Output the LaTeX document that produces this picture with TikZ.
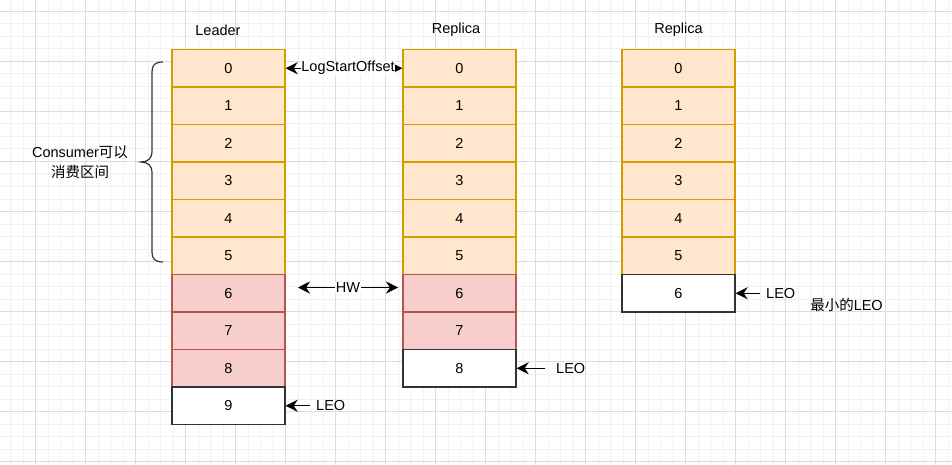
\documentclass[tikz,border=0pt]{standalone}
\usepackage{fontspec}
\setmainfont{Liberation Sans}
\newfontfamily\cjk{Noto Sans CJK SC}
\usetikzlibrary{arrows.meta}
\definecolor{orfill}{HTML}{FFE6CC}
\definecolor{ordraw}{HTML}{D79B00}
\definecolor{rdfill}{HTML}{F8CECC}
\definecolor{rddraw}{HTML}{B85450}
\definecolor{wtdraw}{HTML}{333333}
\definecolor{gminor}{HTML}{F1F1F1}
\definecolor{gmajor}{HTML}{DCDCDC}
\tikzset{
  cell/.style={minimum width=113pt, minimum height=37.5pt, inner sep=0pt, line width=1.4pt, font=\fontsize{14.5}{17}\selectfont},
  ocell/.style={cell, fill=orfill, draw=ordraw},
  rcell/.style={cell, fill=rdfill, draw=rddraw},
  wcell/.style={cell, fill=white, draw=wtdraw},
  lbl/.style={font=\fontsize{14.5}{17}\selectfont, inner sep=1pt},
  arr/.style={line width=1.2pt, -{Stealth[length=12pt,width=12pt,inset=4pt]}},
  darr/.style={line width=1.2pt, {Stealth[length=12pt,width=12pt,inset=4pt]}-{Stealth[length=12pt,width=12pt,inset=4pt]}},
  gmin/.style={draw=gminor, line width=1pt},
  gmaj/.style={draw=gmajor, line width=1pt}
}
\begin{document}
\begin{tikzpicture}[x=1pt,y=-1pt]
\useasboundingbox (0,0) rectangle (952,465);
\clip (0,0) rectangle (952,465);
\fill[white] (0,0) rectangle (952,465);
% grid
\foreach \i in {0,...,76} {\draw[gmin] ({10.5+12.5*\i},0) -- ({10.5+12.5*\i},465);}
\foreach \i in {0,...,37} {\draw[gmin] (0,{-1+12.5*\i}) -- (952,{-1+12.5*\i});}
\foreach \i in {0,...,18} {\draw[gmaj] ({35.5+50*\i},0) -- ({35.5+50*\i},465);}
\foreach \i in {0,...,9} {\draw[gmaj] (0,{11.5+50*\i}) -- (952,{11.5+50*\i});}
% titles
\node[lbl] (tL) at (218,30) {Leader};
\node[lbl] (tA) at (456,30) {Replica};
\node[lbl] (tB) at (678.5,30) {Replica};
% Leader column
\foreach \i in {0,...,5} {\node[ocell] (L\i) at (228.5,{68.25+37.5*\i}) {\i};}
\foreach \i in {6,...,8} {\node[rcell] (L\i) at (228.5,{68.25+37.5*\i}) {\i};}
\node[wcell] (L9) at (228.5,{68.25+37.5*9}) {9};
% Replica 1
\foreach \i in {0,...,5} {\node[ocell] (A\i) at (459.5,{68.25+37.5*\i}) {\i};}
\foreach \i in {6,...,7} {\node[rcell] (A\i) at (459.5,{68.25+37.5*\i}) {\i};}
\node[wcell] (A8) at (459.5,{68.25+37.5*8}) {8};
% Replica 2
\foreach \i in {0,...,5} {\node[ocell] (B\i) at (678.5,{68.25+37.5*\i}) {\i};}
\node[wcell] (B6) at (678.5,{68.25+37.5*6}) {6};
% LogStartOffset
\draw[darr] (L0.east) -- (A0.west) node[midway, lbl, fill=white, inner sep=0pt, xshift=4pt] (lso) {LogStartOffset};
% HW
\coordinate (hw1) at (298,287.5);
\coordinate (hw2) at (398,287.5);
\draw[darr] (hw1) -- (hw2) node[midway, lbl, fill=white, inner sep=1pt] (hw) {HW};
% LEO arrows
\coordinate (e1) at (310,405.75);
\draw[arr] (e1) -- (L9.east);
\node[lbl, anchor=west] (leo1) at (315,405.75) {LEO};
\coordinate (e2) at (545,368.25);
\draw[arr] (e2) -- (A8.east);
\node[lbl, anchor=west] (leo2) at (555,368.25) {LEO};
\coordinate (e3) at (760,293.25);
\draw[arr] (e3) -- (B6.east);
\node[lbl, anchor=west] (leo3) at (765,293.25) {LEO};
\node[lbl] (minleo) at (846.5,305) {{\cjk 最小的}LEO};
% brace
\draw[wtdraw, line width=1.2pt] (163,62) .. controls (155,62) and (152,65) .. (152,72) -- (152,152) .. controls (152,158) and (148,162) .. (141,162) .. controls (148,162) and (152,166) .. (152,172) -- (152,252) .. controls (152,259) and (155,262) .. (163,262);
\node[lbl, align=center, font=\fontsize{14.5}{20}\selectfont] (cons) at (80,162) {Consumer{\cjk 可以}\\{\cjk 消费区间}};
\end{tikzpicture}
\end{document}
